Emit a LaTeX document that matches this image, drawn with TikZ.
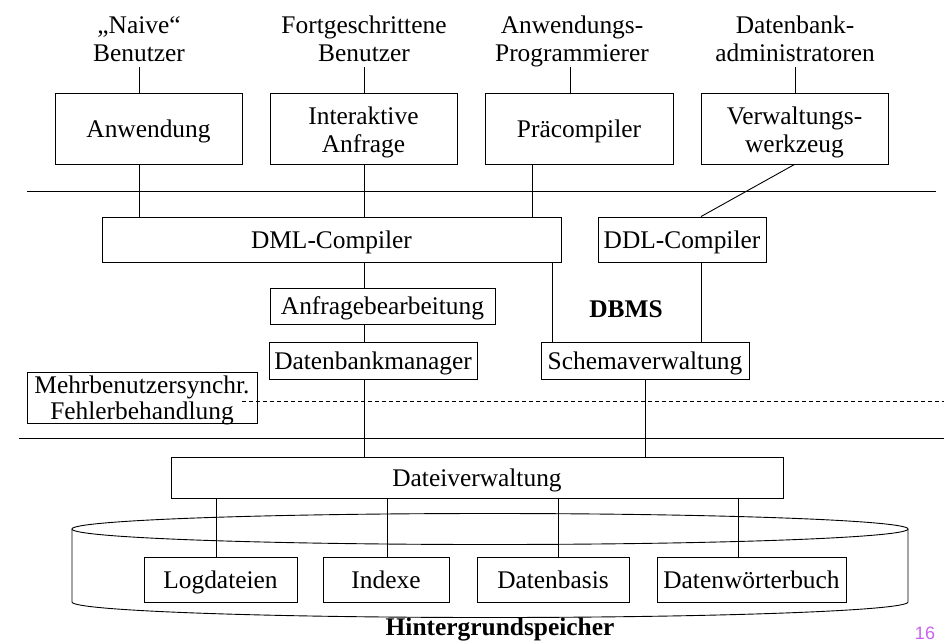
\documentclass[tikz,border=0pt]{standalone}
\usepackage{fontspec}
\setmainfont{Liberation Serif}
\newfontfamily\numfont{Liberation Sans}
\newcommand\myfs{\fontsize{25.4}{28}\selectfont}
\definecolor{slidenum}{RGB}{200,100,240}
\begin{document}
\begin{tikzpicture}[x=1pt,y=-1pt,line width=0.9pt,
  box/.style={draw, inner sep=0pt, text depth=0pt, font=\myfs},
  lab/.style={anchor=base, inner sep=0pt, text depth=6pt, font=\myfs},
  sep/.style={line width=0.9pt}]
\useasboundingbox (0,0) rectangle (946,641);

% column coordinates
\coordinate (c1) at (139,0);
\coordinate (c2) at (364,0);
\coordinate (c3) at (570,0);
\coordinate (c3b) at (532,0);
\coordinate (c4) at (795,0);
\coordinate (c5) at (552,0);
\coordinate (d1) at (216,0);
\coordinate (d2) at (387,0);
\coordinate (d3) at (558,0);
\coordinate (d4) at (738,0);

% user labels
\node[lab] (l1) at (139,61) {\begin{tabular}[b]{@{}c@{}}„Naive“\\Benutzer\end{tabular}};
\node[lab] (l2) at (364,61) {\begin{tabular}[b]{@{}c@{}}Fortgeschrittene\\Benutzer\end{tabular}};
\node[lab] (l3) at (572,61) {\begin{tabular}[b]{@{}c@{}}Anwendungs-\\Programmierer\end{tabular}};
\node[lab] (l4) at (795,61) {\begin{tabular}[b]{@{}c@{}}Datenbank-\\administratoren\end{tabular}};

% top boxes
\node[box, minimum width=187, minimum height=71] (anw) at (148.5,128.5) {Anwendung};
\node[box, minimum width=187, minimum height=71] (inter) at (363.5,128.5) {\begin{tabular}[b]{@{}c@{}}Interaktive\\Anfrage\end{tabular}};
\node[box, minimum width=188, minimum height=71] (praec) at (579,128.5) {Präcompiler};
\node[box, minimum width=187, minimum height=71] (verw) at (794.5,128.5) {\begin{tabular}[b]{@{}c@{}}Verwaltungs-\\werkzeug\end{tabular}};

% DBMS layer
\node[box, minimum width=459, minimum height=45] (dml) at (331.5,239.5) {DML-Compiler};
\node[box, minimum width=168, minimum height=45] (ddl) at (682,239.5) {DDL-Compiler};
\node[box, minimum width=225, minimum height=36] (anfr) at (382.5,306) {Anfragebearbeitung};
\node[box, minimum width=208, minimum height=37] (dbm) at (373,360.5) {Datenbankmanager};
\node[box, minimum width=208, minimum height=37] (schema) at (645,360.5) {Schemaverwaltung};
\node[anchor=base, inner sep=0pt, font=\myfs\bfseries] (dbms) at (626,317) {DBMS};
\node[box, minimum width=230, minimum height=51, font=\fontsize{25.4}{26}\selectfont] (mehr) at (142,397.5) {\begin{tabular}[b]{@{}c@{}}Mehrbenutzersynchr.\\Fehlerbehandlung\end{tabular}};

% separators
\draw[sep] (27,191) -- (936,191);
\draw[sep, dash pattern=on 4pt off 3pt] (242,401) -- (944,401);
\draw[sep] (19,438) -- (944,438);

% storage
\node[box, minimum width=612, minimum height=41] (datei) at (477,477.5) {Dateiverwaltung};
\draw (490,529) ellipse [x radius=418pt, y radius=15.5pt];
\draw (72,529) -- (72,602) arc[start angle=180, end angle=360, x radius=418pt, y radius=15.5pt] -- (908,529);
\node[box, minimum width=153, minimum height=45] (log) at (220.5,579.5) {Logdateien};
\node[box, minimum width=126, minimum height=45] (idx) at (386,579.5) {Indexe};
\node[box, minimum width=152, minimum height=45] (basis) at (553,579.5) {Datenbasis};
\node[box, minimum width=189, minimum height=45] (dwb) at (751.5,579.5) {Datenwörterbuch};
\node[anchor=base, inner sep=0pt, font=\myfs\bfseries] (hg) at (500,635.5) {Hintergrundspeicher};
\node[anchor=base, inner sep=0pt, font=\numfont\fontsize{18}{20}\selectfont, text=slidenum] (num) at (925,639) {16};

% connectors
\draw (c1 |- l1.south) -- (c1 |- anw.north);
\draw (c2 |- l2.south) -- (c2 |- inter.north);
\draw (c3 |- l3.south) -- (c3 |- praec.north);
\draw (c4 |- l4.south) -- (c4 |- verw.north);
\draw (c1 |- anw.south) -- (c1 |- dml.north);
\draw (c2 |- inter.south) -- (c2 |- dml.north);
\draw (c3b |- praec.south) -- (c3b |- dml.north);
\draw (verw.south) -- ([xshift=19pt]ddl.north);
\draw ([xshift=19pt]ddl.south) -- ([xshift=19pt]ddl.south |- schema.north);
\draw (c5 |- dml.south) -- (c5 |- schema.north);
\draw (c2 |- dml.south) -- (c2 |- anfr.north);
\draw (c2 |- anfr.south) -- (c2 |- dbm.north);
\draw (c2 |- dbm.south) -- (c2 |- datei.north);
\draw (schema.south) -- (schema.south |- datei.north);
\draw (d1 |- datei.south) -- (d1 |- log.north);
\draw (d2 |- datei.south) -- (d2 |- idx.north);
\draw (d3 |- datei.south) -- (d3 |- basis.north);
\draw (d4 |- datei.south) -- (d4 |- dwb.north);
\end{tikzpicture}
\end{document}
